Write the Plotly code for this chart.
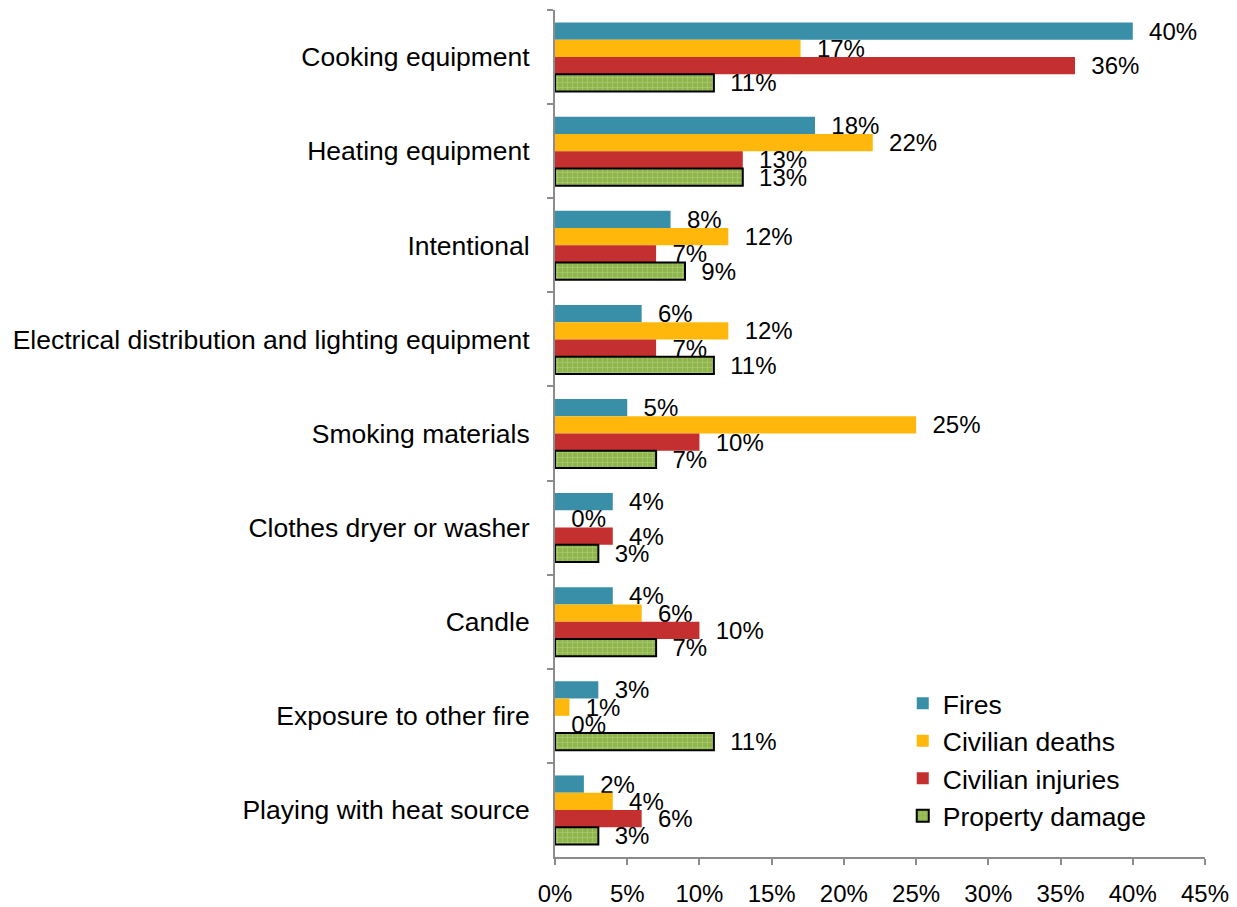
import plotly.graph_objects as go

categories = [
    "Cooking equipment",
    "Heating equipment",
    "Intentional",
    "Electrical distribution and lighting equipment",
    "Smoking materials",
    "Clothes dryer or washer",
    "Candle",
    "Exposure to other fire",
    "Playing with heat source",
]
fires = [40, 18, 8, 6, 5, 4, 4, 3, 2]
civilian_deaths = [17, 22, 12, 12, 25, 0, 6, 1, 4]
civilian_injuries = [36, 13, 7, 7, 10, 4, 10, 0, 6]
property_damage = [11, 13, 9, 11, 7, 3, 7, 11, 3]
x_ticks = [0, 5, 10, 15, 20, 25, 30, 35, 40, 45]

FONT = "Arial, Liberation Sans, sans-serif"
FS_SMALL = 24   # data labels, x tick labels
FS_BIG = 26.5   # category labels, legend


def labels(vals):
    return ["\u00a0\u00a0" + f"{v}%" for v in vals]


series = [
    ("Fires", fires, "#3a8fa8"),
    ("Civilian deaths", civilian_deaths, "#ffb70c"),
    ("Civilian injuries", civilian_injuries, "#c42f2f"),
]

fig = go.Figure()
for name, vals, col in series:
    fig.add_trace(go.Bar(
        name=name, y=categories, x=vals, orientation="h",
        marker=dict(color=col, line=dict(width=0)),
        text=labels(vals), texttemplate="%{text}", textposition="outside",
        textfont=dict(family=FONT, size=FS_SMALL, color="black"),
        cliponaxis=False, constraintext="none",
        legendgroup=name, hoverinfo="x+y",
    ))

fig.add_trace(go.Bar(
    name="Property damage", y=categories, x=property_damage, orientation="h",
    marker=dict(
        color="#93b851",
        line=dict(color="black", width=2),
        pattern=dict(shape="+", fgcolor="#c8e09e", bgcolor="#8fb54c", size=5, solidity=0.25),
    ),
    text=labels(property_damage), texttemplate="%{text}", textposition="outside",
    textfont=dict(family=FONT, size=FS_SMALL, color="black"),
    cliponaxis=False, constraintext="none",
    legendgroup="Property damage", hoverinfo="x+y",
))

# page body has an 8px default margin, so the figure is drawn 8px right/down
fig.update_layout(
    width=1229, height=899,
    margin=dict(l=547, r=32, t=2, b=50, autoexpand=False),
    paper_bgcolor="white", plot_bgcolor="white",
    barmode="group", bargap=0.267, bargroupgap=0,
    font=dict(family=FONT, size=FS_SMALL, color="black"),
    showlegend=True,
    legend=dict(
        x=0.535, y=0.2095, xanchor="left", yanchor="top",
        font=dict(family=FONT, size=FS_BIG, color="black"),
        bgcolor="rgba(0,0,0,0)", tracegroupgap=0, traceorder="normal",
    ),
    xaxis=dict(
        range=[0, 45], tickvals=x_ticks, ticktext=[f"{v}%" for v in x_ticks],
        showgrid=False, zeroline=False, showline=True, linecolor="#8c8c8c", linewidth=2,
        ticks="outside", ticklen=6, tickcolor="#8c8c8c", tickwidth=2,
        ticklabelstandoff=8,
        tickfont=dict(family=FONT, size=FS_SMALL, color="black"),
    ),
    yaxis=dict(
        categoryorder="array", categoryarray=categories, autorange="reversed",
        showgrid=False, zeroline=False, showline=True, linecolor="#8c8c8c", linewidth=2,
        ticks="outside", ticklen=6, tickcolor="#8c8c8c", tickwidth=2, tickson="boundaries",
        ticklabelstandoff=18,
        tickfont=dict(family=FONT, size=FS_BIG, color="black"),
    ),
)

fig.write_html("out.html")
